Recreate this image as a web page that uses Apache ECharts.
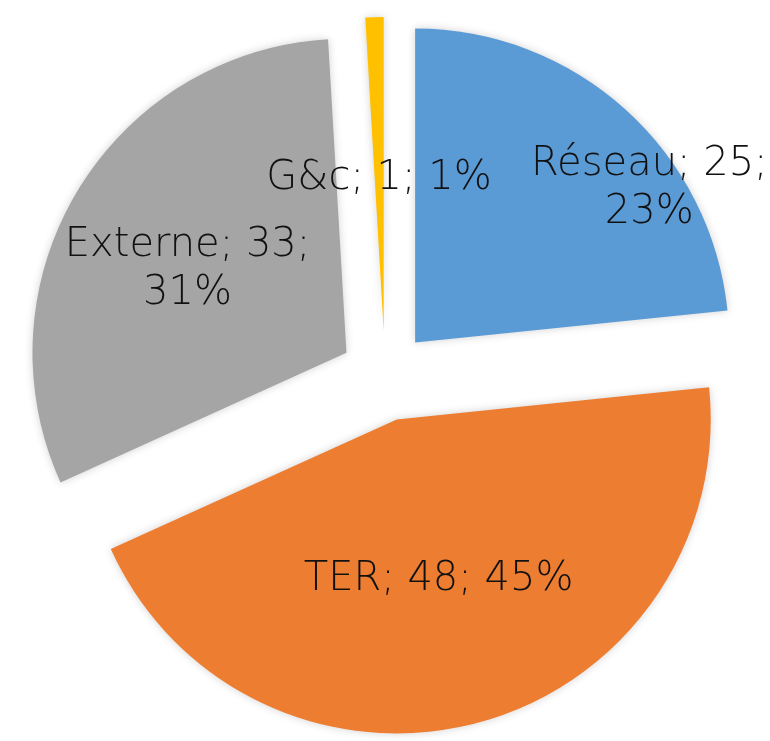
<!DOCTYPE html>
<html>
<head>
<meta charset="UTF-8">
<title>Répartition</title>
<script src="https://cdn.jsdelivr.net/npm/echarts@6/dist/echarts.min.js"></script>
<style>
  html, body { margin: 0; padding: 0; background: #fff; }
</style>
</head>
<body>
	<div id="main" style="width: 770px; height: 741px;"></div>
	<script type="text/javascript">
		// données
		var categories = ['Réseau', 'TER', 'Externe', 'G&c'];
		var values = [25, 48, 33, 1];
		var colors = ['#5B9BD5', '#ED7D31', '#A5A5A5', '#FFC000'];
		// décalage des étiquettes (à la Excel)
		var labelShift = [[127, -35], [0, 6], [-22, 0], [0, 8]];
		var wrapped = { 'Réseau': true, 'Externe': true };

		var myChart = echarts.init(document.getElementById('main'));

		var data = categories.map(function (name, i) {
			return {
				name: name,
				value: values[i],
				selected: true,
				itemStyle: { color: colors[i] },
				select: { itemStyle: { color: colors[i] } }
			};
		});

		var option = {
			animation: false,
			series: [{
				type: 'pie',
				center: [385, 376],
				radius: 314,
				startAngle: 90,
				clockwise: true,
				selectedMode: 'multiple',
				selectedOffset: 45,
				minShowLabelAngle: 0,
				emphasis: { disabled: true },
				itemStyle: {
					shadowBlur: 8,
					shadowColor: 'rgba(0,0,0,0.18)'
				},
				label: {
					show: true,
					position: 'inner',
					fontFamily: 'DejaVu Sans',
					fontWeight: 200,
					fontSize: 40,
					lineHeight: 48,
					color: '#111',
					formatter: function (p) {
						var pct = Math.round(p.percent) + '%';
						if (wrapped[p.name]) {
							return p.name + '; ' + p.value + ';\n' + pct;
						}
						return p.name + '; ' + p.value + '; ' + pct;
					}
				},
				labelLine: { show: false },
				labelLayout: function (params) {
					var s = labelShift[params.dataIndex];
					return { dx: s[0], dy: s[1] };
				},
				data: data
			}]
		};
		myChart.setOption(option);
	</script>
</body>
</html>
